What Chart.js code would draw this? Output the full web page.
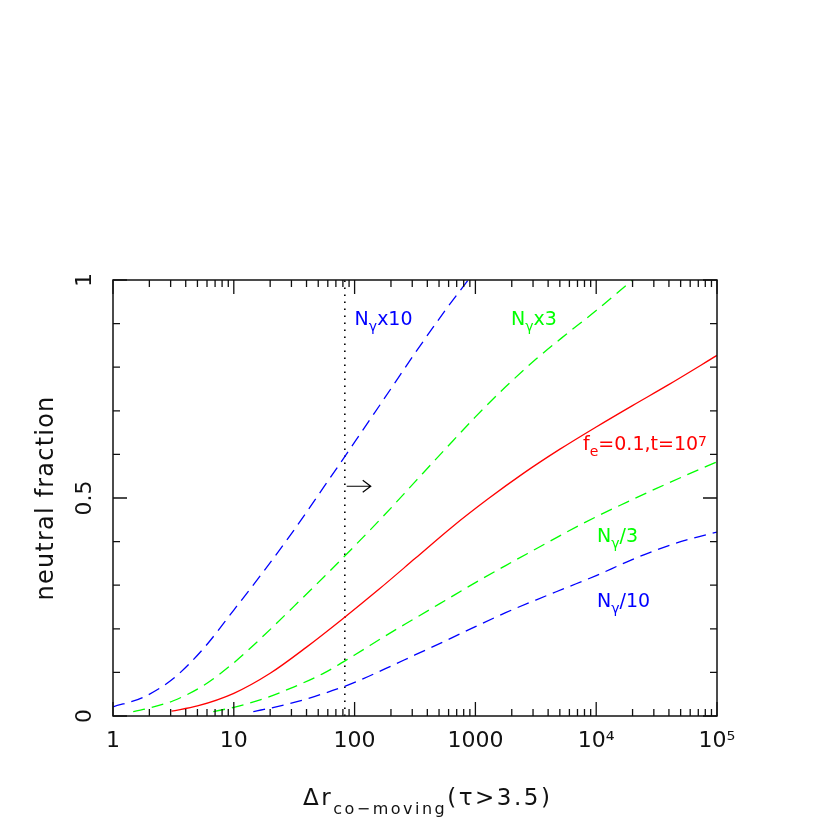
<!DOCTYPE html>
<html>
<head>
<meta charset="utf-8">
<script src="https://cdn.jsdelivr.net/npm/chart.js@4.4.1/dist/chart.umd.min.js"></script>
<style>
    html, body { margin: 0; padding: 0; background: #fff; }
    #wrap { width: 830px; height: 830px; }
</style>
</head>
<body>
<div id="wrap"><canvas id="chart"></canvas></div>
<script>
// values (x is the co-moving size, y the neutral fraction)
var blueUpX = [1, 1.78, 3.16, 5.62, 10, 17.8, 31.6, 56.2, 100, 178, 316, 562, 871];
var blueUpY = [0.021, 0.043, 0.086, 0.155, 0.243, 0.333, 0.427, 0.527, 0.628, 0.73, 0.832, 0.93, 1.0];

var greenUpX = [1.47, 1.78, 3.16, 5.62, 10, 17.8, 31.6, 56.2, 100, 178, 316, 562, 1000, 1780, 3160, 5620, 10000, 19950];
var greenUpY = [0.01, 0.015, 0.035, 0.07, 0.122, 0.185, 0.252, 0.32, 0.39, 0.462, 0.537, 0.612, 0.686, 0.755, 0.818, 0.875, 0.93, 1.0];

var redX = [3.05, 5, 10, 20, 40, 79, 158, 316, 631, 1260, 2510, 5010, 10000, 19950, 39800, 100000];
var redY = [0.011, 0.023, 0.052, 0.098, 0.158, 0.222, 0.29, 0.361, 0.432, 0.497, 0.557, 0.612, 0.663, 0.712, 0.76, 0.827];

var greenDnX = [6.76, 10, 17.8, 31.6, 56.2, 100, 178, 316, 562, 1000, 1780, 3160, 5620, 10000, 17800, 31600, 56200, 100000];
var greenDnY = [0.01, 0.02, 0.04, 0.067, 0.099, 0.14, 0.183, 0.224, 0.265, 0.306, 0.345, 0.383, 0.421, 0.457, 0.49, 0.522, 0.553, 0.583];

var blueDnX = [14.5, 17.8, 31.6, 56.2, 100, 178, 316, 562, 1000, 1780, 3160, 5620, 10000, 17800, 31600, 56200, 100000];
var blueDnY = [0.01, 0.015, 0.031, 0.052, 0.077, 0.108, 0.14, 0.172, 0.205, 0.237, 0.266, 0.294, 0.322, 0.353, 0.381, 0.404, 0.422];

// the dotted cut and the arrow next to it
var cutX = [83, 83];
var cutY = [0, 1];
var arrowX = [86, 136];
var arrowY = [0.527, 0.527];

var xMajor = [1, 10, 100, 1000, 10000, 100000];
var xMajorLabels = ['1', '10', '100', '1000', '10⁴', '10⁵'];
var yMajor = [0, 0.5, 1];
var yMajorLabels = ['0', '0.5', '1'];
var yMinor = [0.1, 0.2, 0.3, 0.4, 0.6, 0.7, 0.8, 0.9];

var BLUE = '#0000ff', GREEN = '#00ff00', RED = '#ff0000';

// curve labels: [text, style] pieces, anchored at left/baseline in data coords
var notes = [
    { parts: [['N'], ['γ', 'sub'], ['x10']], x: 100, y: 0.896, color: BLUE },
    { parts: [['N'], ['γ', 'sub'], ['x3']], x: 1970, y: 0.896, color: GREEN },
    { parts: [['f'], ['e', 'sub'], ['=0.1,t=10'], ['7', 'sup']], x: 7780, y: 0.609, color: RED },
    { parts: [['N'], ['γ', 'sub'], ['/3']], x: 10170, y: 0.399, color: GREEN },
    { parts: [['N'], ['γ', 'sub'], ['/10']], x: 10170, y: 0.25, color: BLUE }
];

function pts(xs, ys) {
    return xs.map(function (x, i) { return { x: x, y: ys[i] }; });
}

function curve(label, xs, ys, color, dash) {
    return {
        label: label,
        data: pts(xs, ys),
        showLine: true,
        borderColor: color,
        borderWidth: 1.3,
        borderDash: dash,
        pointRadius: 0,
        fill: false,
        cubicInterpolationMode: 'monotone'
    };
}

function drawRich(ctx, parts, x, y, size, color) {
    ctx.save();
    ctx.fillStyle = color;
    ctx.textAlign = 'left';
    ctx.textBaseline = 'alphabetic';
    var cx = x;
    parts.forEach(function (p) {
        var s = size, dy = 0;
        if (p[1] === 'sub') { s = size * 0.74; dy = size * 0.3; }
        if (p[1] === 'sup') { s = size * 0.74; dy = -size * 0.22; }
        ctx.font = s + 'px "DejaVu Sans"';
        ctx.fillText(p[0], cx, y + dy);
        cx += ctx.measureText(p[0]).width;
    });
    ctx.restore();
}

var frame = {
    id: 'frame',
    afterDraw: function (chart) {
        var ctx = chart.ctx;
        var a = chart.chartArea;
        var xs = chart.scales.x, ys = chart.scales.y;

        ctx.save();
        ctx.strokeStyle = '#111';
        ctx.lineWidth = 1.5;
        ctx.strokeRect(a.left, a.top, a.right - a.left, a.bottom - a.top);

        ctx.lineWidth = 1.3;
        ctx.beginPath();
        function xt(v, len) {
            var p = xs.getPixelForValue(v);
            ctx.moveTo(p, a.bottom); ctx.lineTo(p, a.bottom - len);
            ctx.moveTo(p, a.top); ctx.lineTo(p, a.top + len);
        }
        function yt(v, len) {
            var p = ys.getPixelForValue(v);
            ctx.moveTo(a.left, p); ctx.lineTo(a.left + len, p);
            ctx.moveTo(a.right, p); ctx.lineTo(a.right - len, p);
        }
        xMajor.forEach(function (v) { xt(v, 14); });
        for (var d = 0; d < xMajor.length - 1; d++) {
            for (var m = 2; m < 10; m++) xt(xMajor[d] * m, 7);
        }
        yMajor.forEach(function (v) { yt(v, 14); });
        yMinor.forEach(function (v) { yt(v, 7); });
        ctx.stroke();

        // arrow to the right of the cut
        var x0 = xs.getPixelForValue(arrowX[0]), x1 = xs.getPixelForValue(arrowX[1]);
        var y0 = ys.getPixelForValue(arrowY[0]);
        ctx.strokeStyle = '#000';
        ctx.lineWidth = 1.2;
        ctx.beginPath();
        ctx.moveTo(x0, y0); ctx.lineTo(x1, y0);
        ctx.moveTo(x1 - 8, y0 - 6); ctx.lineTo(x1, y0); ctx.lineTo(x1 - 8, y0 + 6);
        ctx.stroke();
        ctx.restore();

        notes.forEach(function (n) {
            drawRich(ctx, n.parts, xs.getPixelForValue(n.x), ys.getPixelForValue(n.y), 19, n.color);
        });

        // axis titles
        ctx.save();
        ctx.fillStyle = '#111';
        ctx.letterSpacing = '1.2px';
        ctx.font = '24px "DejaVu Sans"';
        ctx.textAlign = 'center';
        ctx.textBaseline = 'alphabetic';
        ctx.translate(53, (a.top + a.bottom) / 2);
        ctx.rotate(-Math.PI / 2);
        ctx.fillText('neutral fraction', 0, 0);
        ctx.restore();

        ctx.save();
        ctx.fillStyle = '#111';
        ctx.letterSpacing = '2.5px';
        ctx.textAlign = 'left';
        ctx.textBaseline = 'alphabetic';
        var tx = 303, ty = 805;
        ctx.font = '23px "DejaVu Sans"';
        ctx.fillText('Δr', tx, ty);
        tx += ctx.measureText('Δr').width;
        ctx.font = '16px "DejaVu Sans"';
        ctx.fillText('co−moving', tx, ty + 9);
        tx += ctx.measureText('co−moving').width;
        ctx.font = '23px "DejaVu Sans"';
        ctx.fillText('(τ>3.5)', tx, ty);
        ctx.restore();
    }
};

var ctx = document.getElementById('chart');

var chart = new Chart(ctx, {
    type: 'scatter',
    data: {
        datasets: [
            curve('Nγx10', blueUpX, blueUpY, BLUE, [12, 7]),
            curve('Nγx3', greenUpX, greenUpY, GREEN, [12, 7]),
            curve('fe=0.1,t=1e7', redX, redY, RED, []),
            curve('Nγ/3', greenDnX, greenDnY, GREEN, [12, 7]),
            curve('Nγ/10', blueDnX, blueDnY, BLUE, [12, 7]),
            {
                label: 'cut',
                data: pts(cutX, cutY),
                showLine: true,
                borderColor: '#000',
                borderWidth: 1.6,
                borderDash: [1.6, 5.4],
                pointRadius: 0,
                fill: false
            }
        ]
    },
    options: {
        responsive: true,
        maintainAspectRatio: false,
        animation: false,
        layout: { padding: { top: 280, right: 113, left: 0, bottom: 0 } },
        plugins: {
            legend: { display: false },
            tooltip: { enabled: false }
        },
        scales: {
            x: {
                type: 'logarithmic',
                min: 1,
                max: 100000,
                afterBuildTicks: function (s) {
                    s.ticks = xMajor.map(function (v) { return { value: v }; });
                },
                afterFit: function (s) { s.height = 114; },
                grid: { display: false, drawTicks: false },
                border: { display: false },
                ticks: {
                    autoSkip: false,
                    maxRotation: 0,
                    padding: 12,
                    color: '#111',
                    font: { family: 'DejaVu Sans', size: 22 },
                    callback: function (value, index) { return xMajorLabels[index]; }
                }
            },
            y: {
                min: 0,
                max: 1,
                afterBuildTicks: function (s) {
                    s.ticks = yMajor.map(function (v) { return { value: v }; });
                },
                afterFit: function (s) { s.width = 113; },
                grid: { display: false, drawTicks: false },
                border: { display: false },
                ticks: {
                    autoSkip: false,
                    minRotation: 90,
                    maxRotation: 90,
                    crossAlign: 'center',
                    padding: 10,
                    color: '#111',
                    font: { family: 'DejaVu Sans', size: 22 },
                    callback: function (value, index) { return yMajorLabels[index]; }
                }
            }
        }
    },
    plugins: [frame]
});
</script>
</body>
</html>
